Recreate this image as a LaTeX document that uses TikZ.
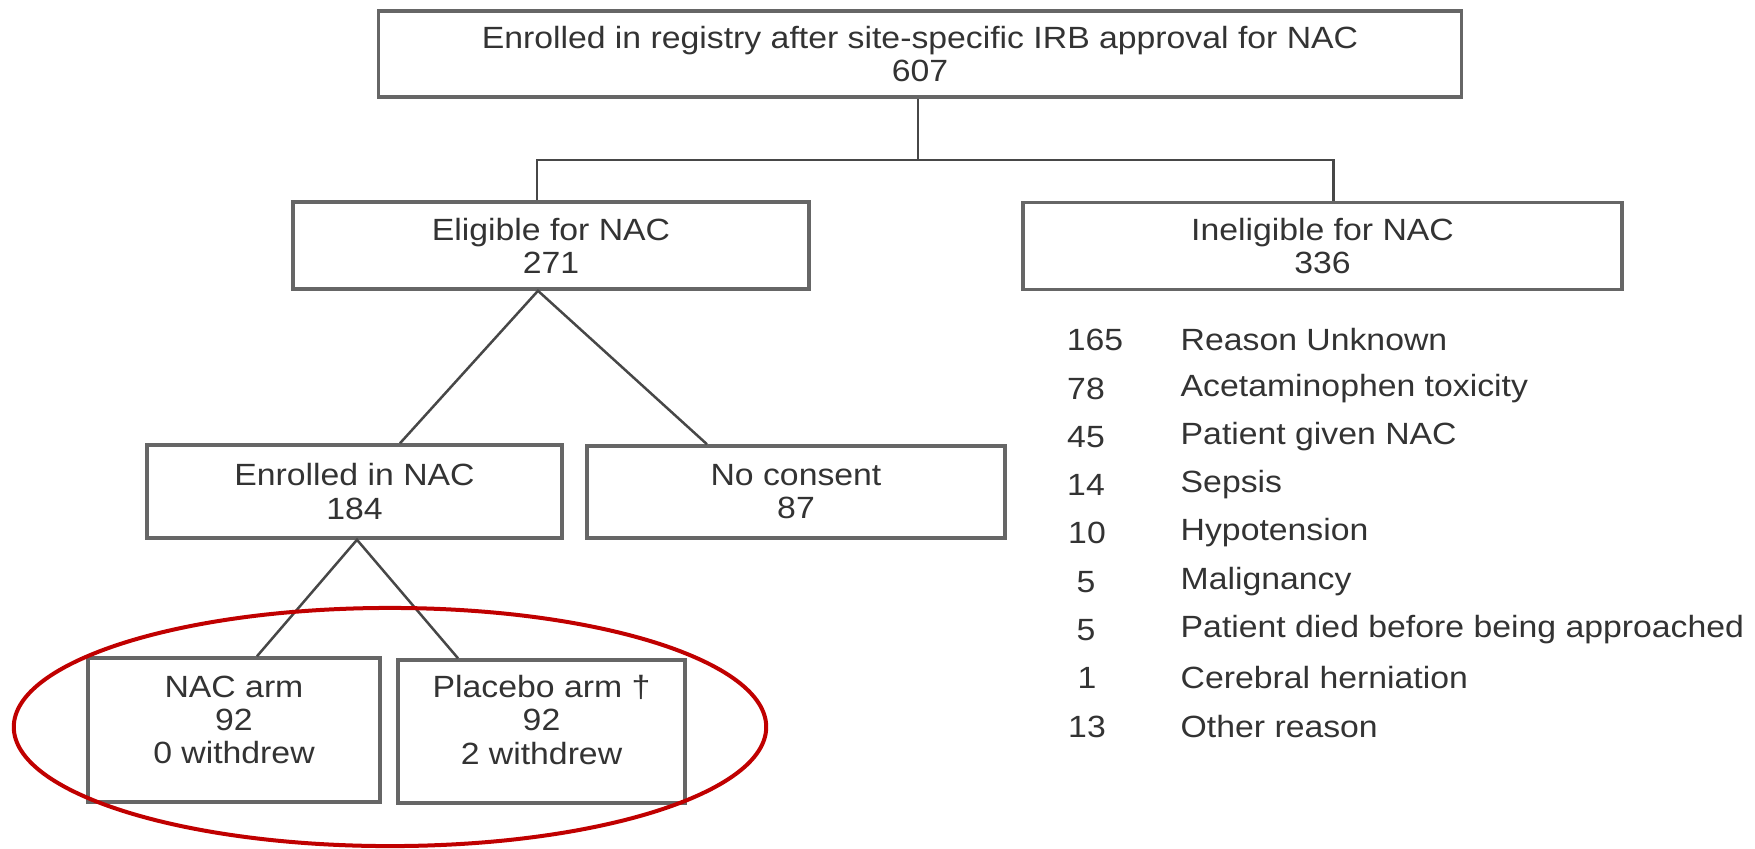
\documentclass[tikz,border=0pt]{standalone}
\usepackage{fontspec}
\setmainfont[FakeStretch=1.1]{Liberation Sans}
\definecolor{ringred}{RGB}{192,0,0}
\begin{document}
\begin{tikzpicture}[x=0.01cm,y=-0.01cm,
    box/.style={draw=black!60,line width=0.035cm,inner sep=0pt,align=center,
      text=black!80,font=\fontsize{8.73}{9.4}\selectfont},
    txt/.style={inner sep=0pt,align=center,text=black!80,font=\fontsize{8.73}{9.4}\selectfont},
    link/.style={draw=black!72,line width=0.025cm}]
  \useasboundingbox (0,0) rectangle (1755,848);
  \node [box,minimum width=10.82cm,minimum height=0.86cm] (top) at (920,54)
    {Enrolled in registry after site-specific IRB approval for NAC\\607};
  \node [box,minimum width=5.16cm,minimum height=0.87cm] (elig) at (551,245.5)
    {Eligible for NAC\\271};
  \node [box,minimum width=5.99cm,minimum height=0.87cm] (inel) at (1322.5,246)
    {Ineligible for NAC\\336};
  \node [box,minimum width=4.15cm,minimum height=0.93cm] (enr) at (354.5,491.5)
    {Enrolled in NAC\\184};
  \node [box,minimum width=4.18cm,minimum height=0.92cm] (nocons) at (796,492)
    {No consent\\87};
  \node [box,minimum width=2.92cm,minimum height=1.44cm] (nacarm) at (234,730) {};
  \node [box,minimum width=2.87cm,minimum height=1.43cm] (plac) at (541.5,731.5) {};
  \node [txt] (nacarmtxt) at (234,720) {NAC arm\\92\\0 withdrew};
  \node [txt] (plactxt) at (541.5,720) {Placebo arm †\\92\\2 withdrew};
  % reasons for ineligibility
  \foreach \i/\y/\x/\n/\t in {1/340/1095/165/Reason Unknown,
      2/389/1086/78/Acetaminophen toxicity,
      3/437/1086/45/Patient given NAC,
      4/485/1086/14/Sepsis,
      5/533/1087/10/Hypotension,
      6/582/1086/5/Malignancy,
      7/630/1086/5/Patient died before being approached,
      8/678/1087/1/Cerebral herniation,
      9/727/1087/13/Other reason}
  {
    \node [txt] (num\i) at (\x,\y) {\n};
    \node [txt,anchor=west] (why\i) at (1180,\y) {\t};
  }
  \coordinate (split) at (918,160);
  \draw [link] (top.south -| split) -- (split);
  \draw [link] ([xshift=-0.14cm]elig.north) |- (split) -| ([xshift=0.11cm]inel.north);
  \draw [link] ([xshift=0.455cm]enr.north) -- ([xshift=-0.13cm]elig.south)
    -- ([xshift=-0.89cm]nocons.north);
  \draw [link] ([xshift=0.23cm]nacarm.north) -- ([xshift=0.025cm]enr.south)
    -- ([xshift=-0.835cm]plac.north);
  \draw [ringred,line width=0.04cm] (390,727) ellipse [x radius=3.76cm,y radius=1.19cm];
\end{tikzpicture}
\end{document}
